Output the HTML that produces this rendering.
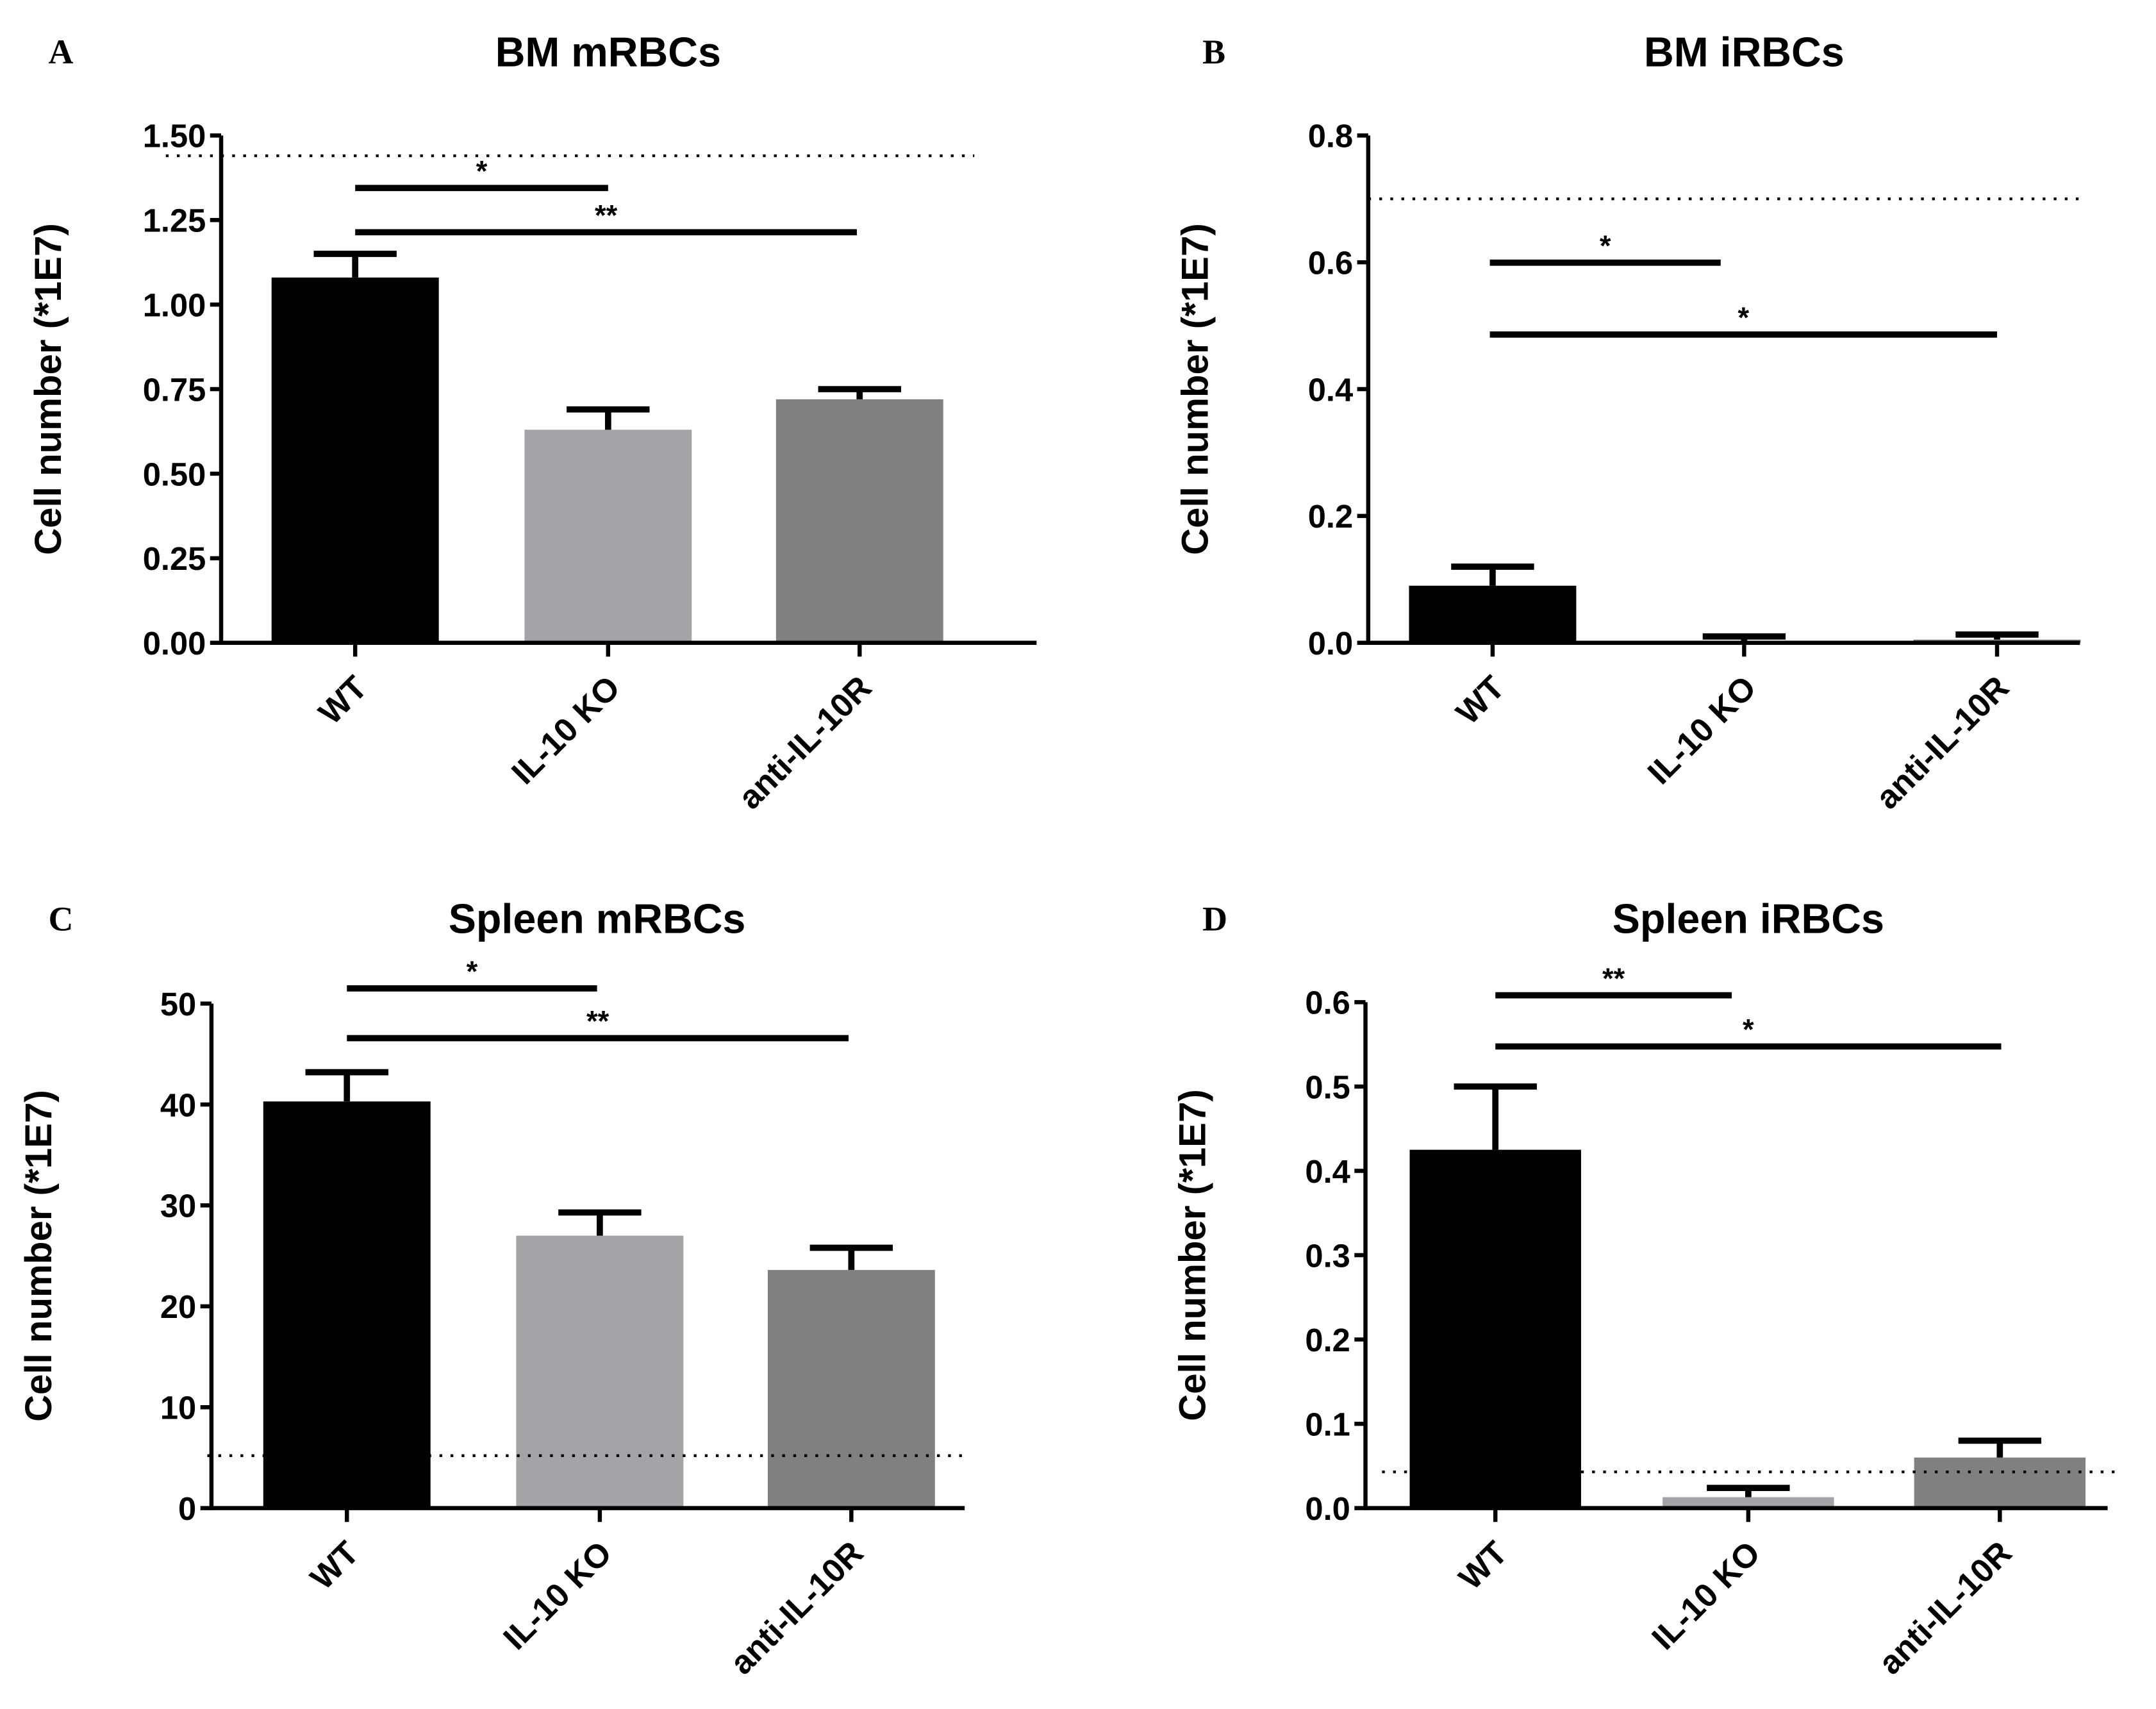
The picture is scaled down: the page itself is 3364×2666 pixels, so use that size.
<!DOCTYPE html>
<html><head><meta charset="utf-8"><style>
html,body{margin:0;padding:0;background:#fff}
svg{display:block}
text{font-family:"Liberation Sans",Arial,sans-serif;font-weight:bold;fill:#000}
text.serif{font-family:"Liberation Serif","Times New Roman",serif}
</style></head><body>
<svg id="fig" xmlns="http://www.w3.org/2000/svg" width="3364" height="2666" viewBox="0 0 1560 1236.3"></svg>
<script>
const categories = ["WT","IL-10 KO","anti-IL-10R"];
const valuesA = [1.08,0.63,0.72];
const errorsA = [1.15,0.69,0.75];
const ticksA = ["0.00","0.25","0.50","0.75","1.00","1.25","1.50"];
const valuesB = [0.09,0.003,0.005];
const errorsB = [0.12,0.01,0.013];
const ticksB = ["0.0","0.2","0.4","0.6","0.8"];
const valuesC = [40.3,27,23.6];
const errorsC = [43.2,29.3,25.8];
const ticksC = ["0","10","20","30","40","50"];
const valuesD = [0.425,0.013,0.06];
const errorsD = [0.5,0.024,0.08];
const ticksD = ["0.0","0.1","0.2","0.3","0.4","0.5","0.6"];
const dottedA = [1.44], dottedB = [0.7], dottedC = [5.2], dottedD = [0.043];
const colors = ["#000000","#a3a3a8","#808080"];

const NS="http://www.w3.org/2000/svg";
const svg=document.getElementById('fig');
function mk(tag,attrs,parent){const e=document.createElementNS(NS,tag);for(const k in attrs)e.setAttribute(k,attrs[k]);(parent||svg).appendChild(e);return e;}

const panels=[
 {id:'a',letter:'A',title:'BM mRBCs',ax:160,x1:750,top:98,bot:465,max:1.5,ticks:ticksA,vals:valuesA,errs:errorsA,cx:[257,440,622],bw:121,dot:dottedA[0],dx:[120,705],sig:[["*",136,257,440],["**",168,257,620]],lx:35,tx:440,ty:38},
 {id:'b',letter:'B',title:'BM iRBCs',ax:990,x1:1505,top:98,bot:465,max:0.8,ticks:ticksB,vals:valuesB,errs:errorsB,cx:[1080,1262,1445],bw:121,dot:dottedB[0],dx:[990,1505],sig:[["*",190,1078,1245],["*",242,1078,1445]],lx:870,tx:1262,ty:38},
 {id:'c',letter:'C',title:'Spleen mRBCs',ax:153,x1:698,top:726,bot:1091,max:50,ticks:ticksC,vals:valuesC,errs:errorsC,cx:[251,434,616],bw:121,dot:dottedC[0],dx:[150,700],sig:[["*",715,251,432],["**",751,251,614]],lx:35,tx:432,ty:665},
 {id:'d',letter:'D',title:'Spleen iRBCs',ax:988,x1:1525,top:725,bot:1091,max:0.6,ticks:ticksD,vals:valuesD,errs:errorsD,cx:[1082,1265,1447],bw:124,dot:dottedD[0],dx:[1000,1535],sig:[["**",720,1082,1253],["*",757,1082,1448]],lx:870,tx:1265,ty:665}
];

panels.forEach(p=>{
 const g=mk('g',{});
 
 
 const y=v=>p.bot-(v/p.max)*(p.bot-p.top);
 const l=mk('text',{x:p.lx,y:p.ty+8,'font-size':25,'class':'serif'},g);l.textContent=p.letter;
 
 const t=mk('text',{x:p.tx,y:p.ty+10,'font-size':30,'text-anchor':'middle'},g);t.textContent=p.title;
 
 const yl=mk('text',{x:0,y:0,'font-size':27,'text-anchor':'middle',transform:`translate(${p.ax-116},${(p.top+p.bot)/2}) rotate(-90)`},g);yl.textContent='Cell number (*1E7)';
 
 p.vals.forEach((v,i)=>{
  const b=mk('rect',{x:p.cx[i]-p.bw/2,y:y(v),width:p.bw,height:p.bot-y(v),fill:colors[i]},g);
  
  
  const e=mk('path',{d:`M${p.cx[i]} ${y(v)}V${y(p.errs[i])}M${p.cx[i]-30} ${y(p.errs[i])}H${p.cx[i]+30}`,stroke:'#000','stroke-width':4.5,fill:'none'},g);
  
 });
 const d=mk('line',{x1:p.dx[0],x2:p.dx[1],y1:y(p.dot),y2:y(p.dot),stroke:'#000','stroke-width':2,'stroke-dasharray':'2 6'},g);
 
 const ya=mk('path',{d:`M${p.ax} ${p.top}V${p.bot}`,stroke:'#000','stroke-width':3},g);
 
 const xa=mk('path',{d:`M${p.ax-1.5} ${p.bot}H${p.x1}`,stroke:'#000','stroke-width':3},g);
 
 p.ticks.forEach(tk=>{
  const yy=y(parseFloat(tk));
  mk('path',{d:`M${p.ax-8} ${yy}H${p.ax}`,stroke:'#000','stroke-width':3},g);
  const tt=mk('text',{x:p.ax-11,y:yy+8.5,'font-size':23.5,'text-anchor':'end'},g);tt.textContent=tk;
  
 });
 categories.forEach((c,i)=>{
  mk('path',{d:`M${p.cx[i]} ${p.bot}V${p.bot+10}`,stroke:'#000','stroke-width':3},g);
  const ct=mk('text',{x:0,y:0,'font-size':24,'text-anchor':'end',transform:`translate(${p.cx[i]+10},${p.bot+34}) rotate(-45)`},g);ct.textContent=c;
  
 });
 p.sig.forEach(s=>{
  const sl=mk('path',{d:`M${s[2]} ${s[1]}H${s[3]}`,stroke:'#000','stroke-width':4.5},g);
  
  const st=mk('text',{x:(s[2]+s[3])/2,y:s[1]-5,'font-size':21,'font-weight':'normal','text-anchor':'middle'},g);st.textContent=s[0];
  
 });
});
</script>
</body></html>
